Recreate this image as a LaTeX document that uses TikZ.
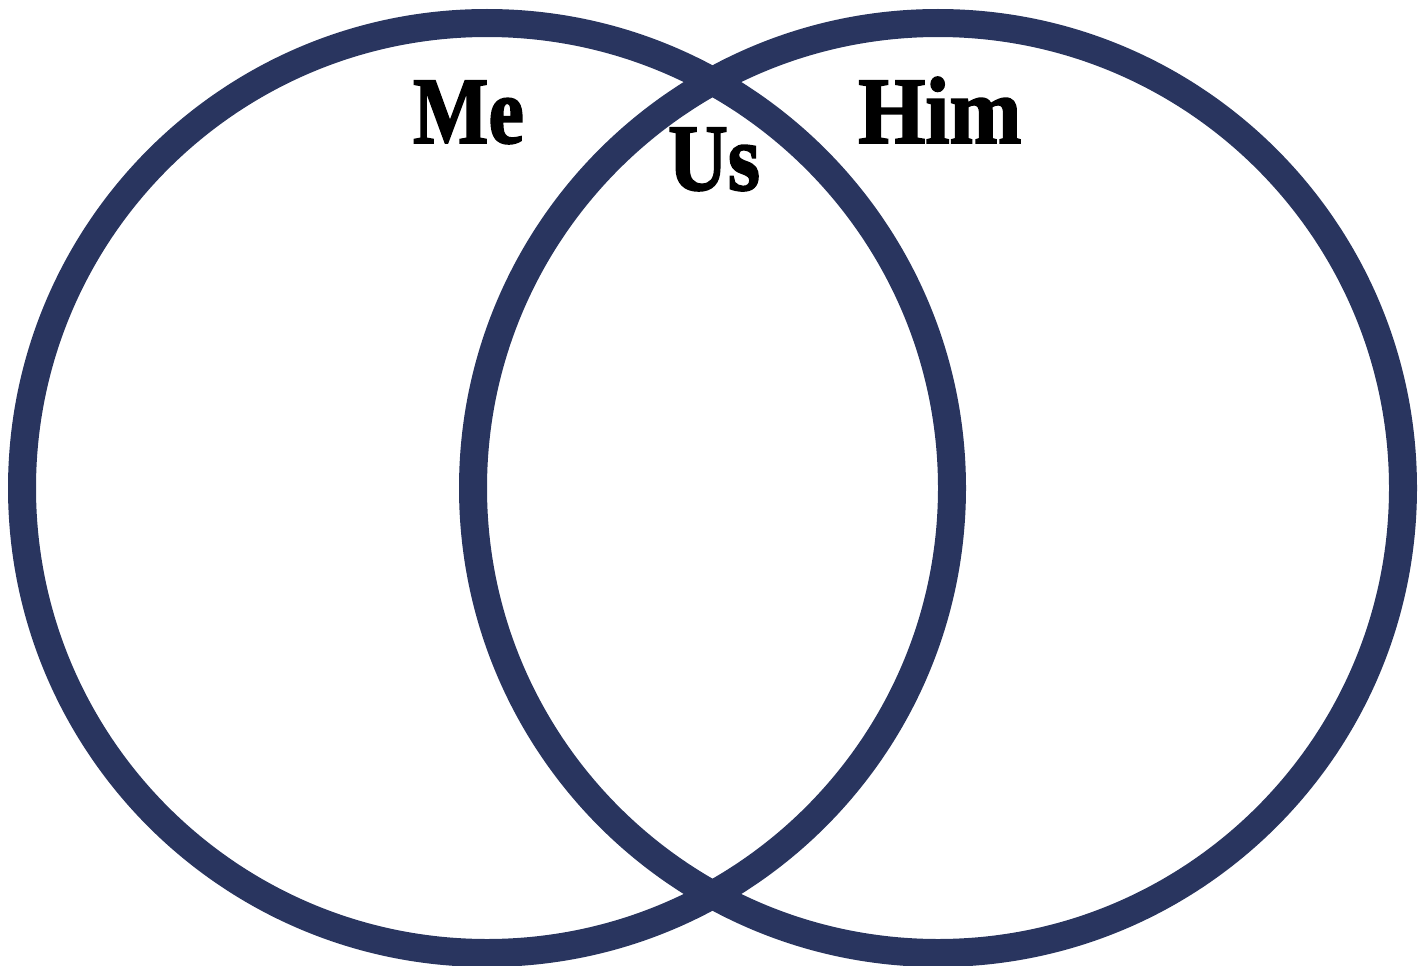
\documentclass[tikz,border=0pt]{standalone}
\usepackage{fontspec}
\newfontfamily\fatfamily{Liberation Serif}[BoldFeatures={FakeBold=2}]
\definecolor{navy}{RGB}{41,53,95}
\begin{document}
\begin{tikzpicture}[x=1pt,y=-1pt,
  ring/.style={draw=navy,line width=28pt},
  lbl/.style={font=\fatfamily\bfseries\fontsize{95}{95}\selectfont,inner sep=0pt,anchor=base west}]
\useasboundingbox (0,0) rectangle (1428,966);
\node[ring,circle,minimum size=930pt,inner sep=0pt] (me) at (487,488) {};
\node[ring,circle,minimum size=930pt,inner sep=0pt] (him) at (938,488) {};
\node[lbl,xscale=0.84] (tme) at (413,143) {Me};
\node[lbl,xscale=0.87] (tus) at (668,190) {Us};
\node[lbl,xscale=0.91] (thim) at (858,143) {Him};
\end{tikzpicture}
\end{document}
